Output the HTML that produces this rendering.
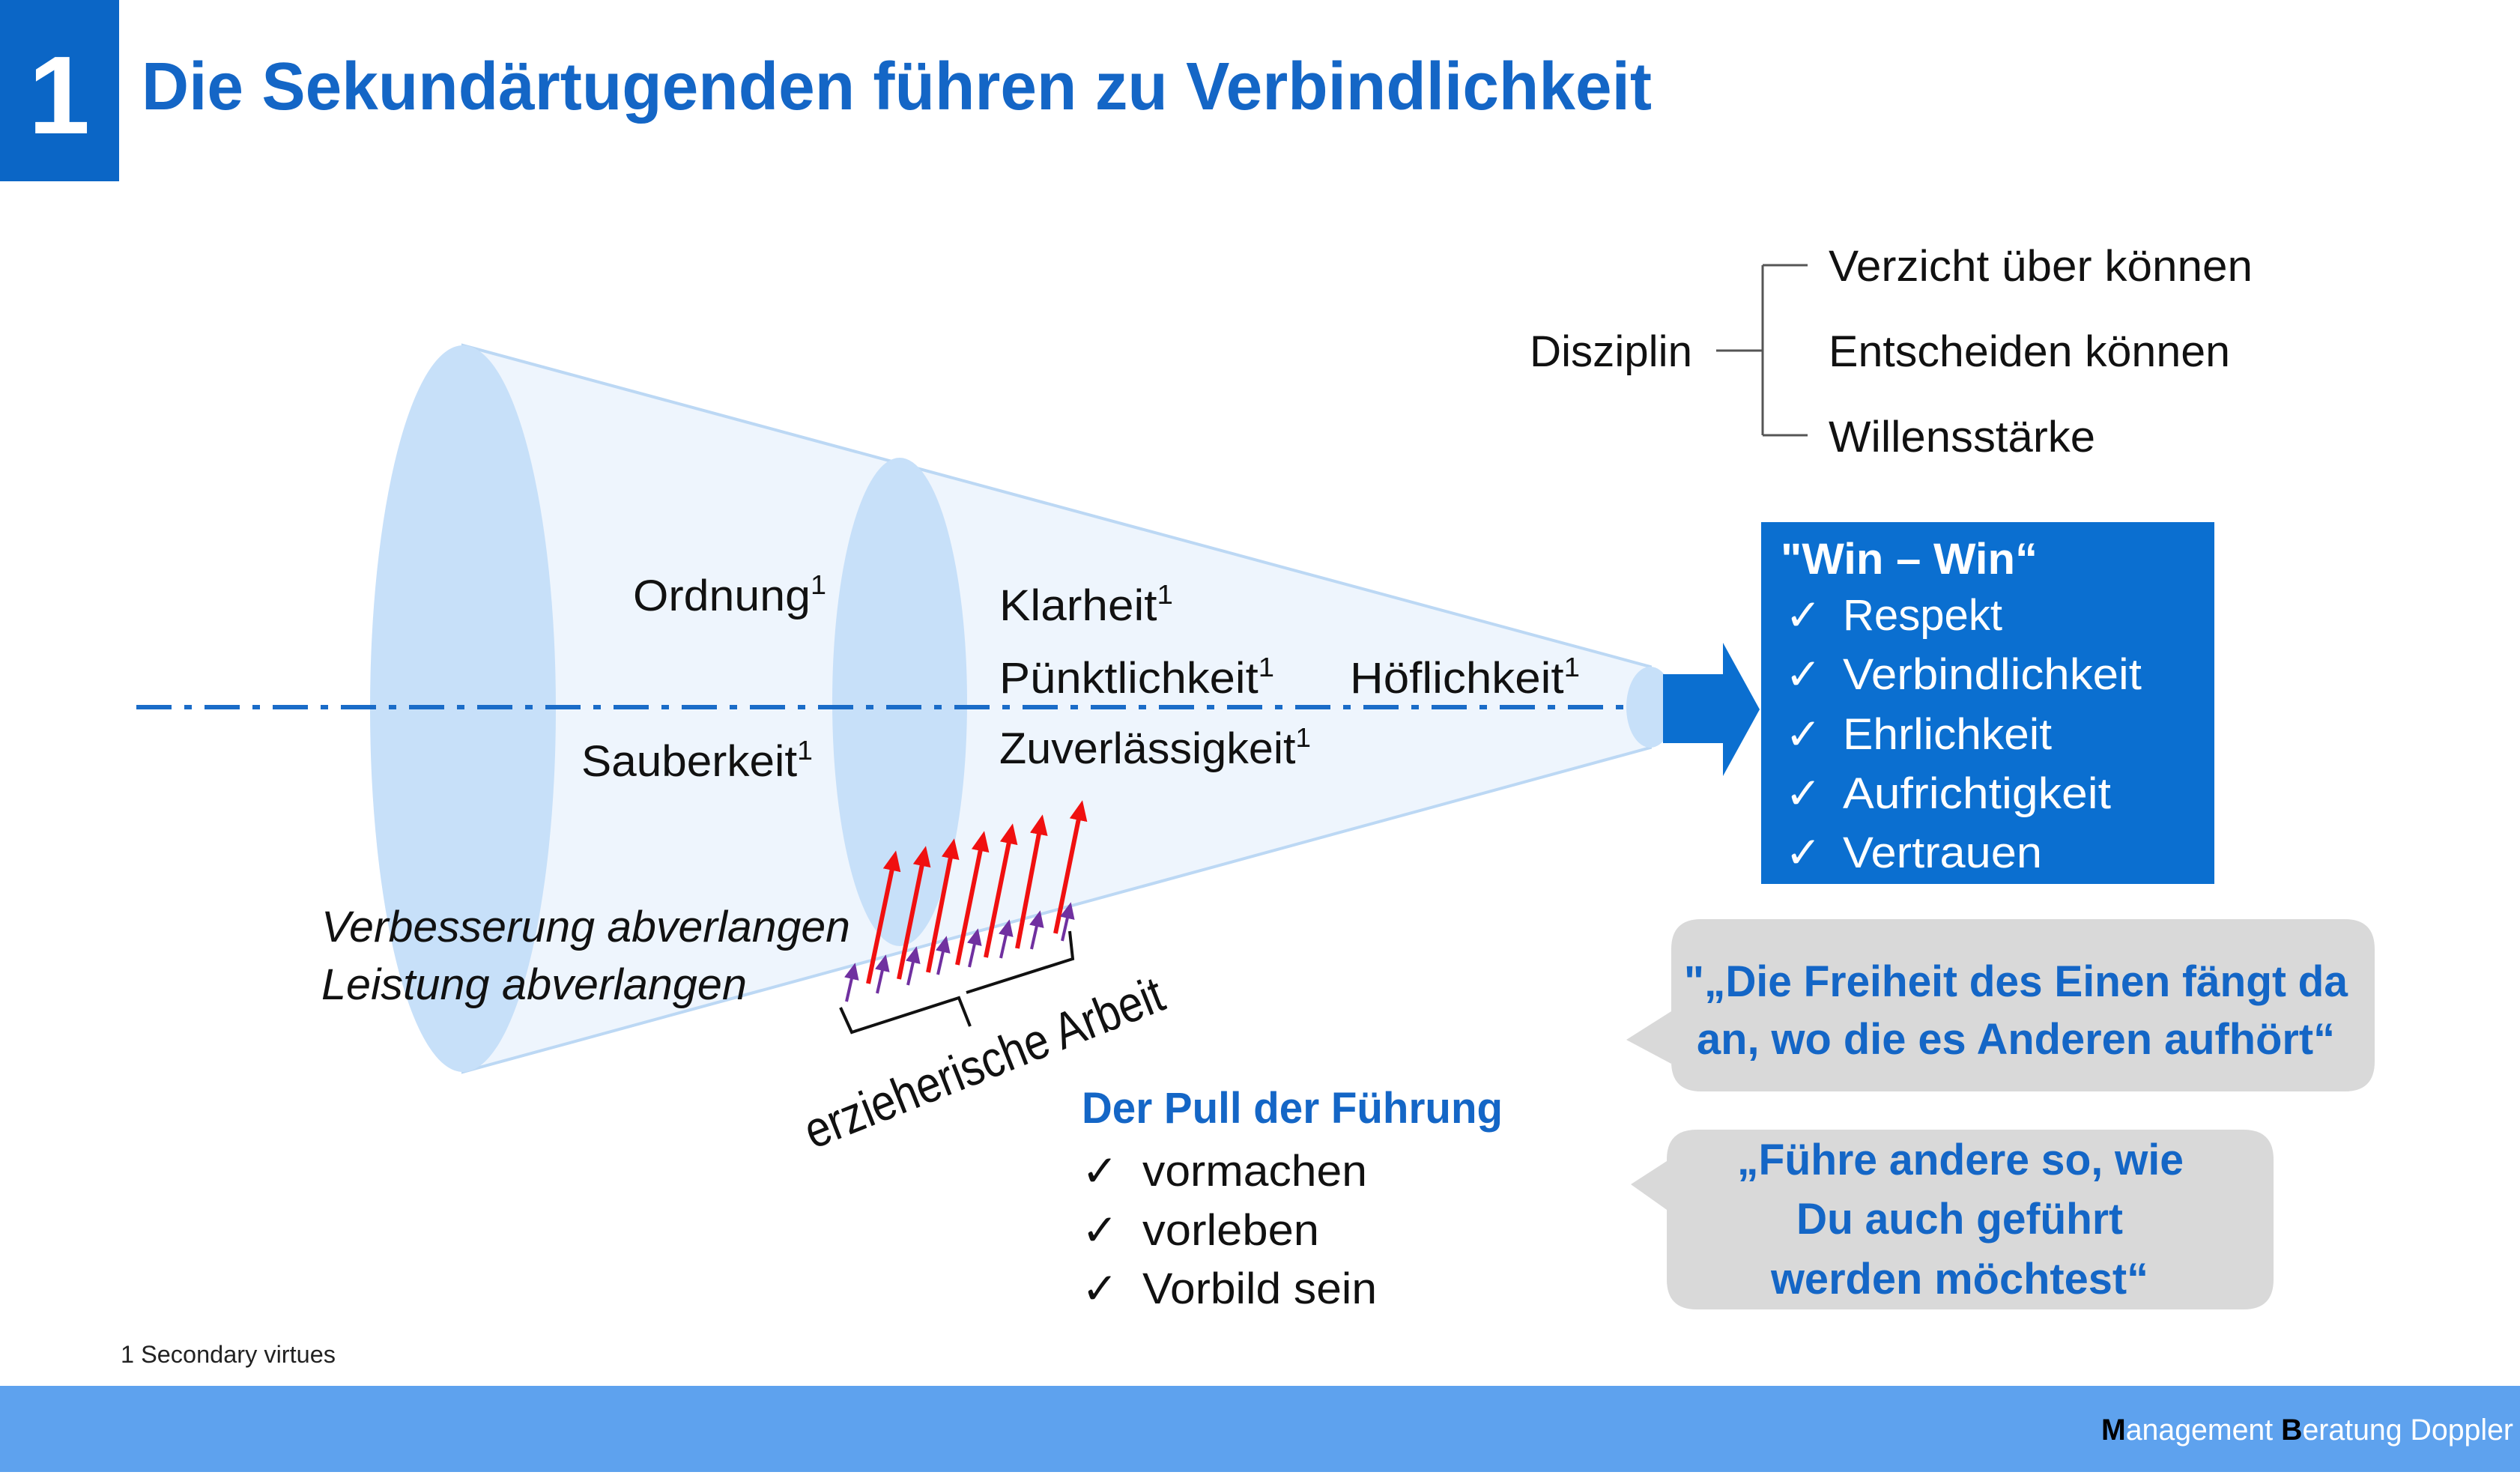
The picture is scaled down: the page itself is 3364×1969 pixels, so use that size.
<!DOCTYPE html>
<html><head><meta charset="utf-8"><style>
html,body{margin:0;padding:0;background:#fff;}
svg{display:block;}
text{font-family:"Liberation Sans",sans-serif;}
.ck{font-family:"DejaVu Sans",sans-serif;font-weight:bold;}
</style></head><body>
<svg width="3364" height="1969" viewBox="0 0 3364 1969" xmlns="http://www.w3.org/2000/svg">
<rect x="0" y="0" width="159" height="242" fill="#0b66c6"/>
<text x="79" y="178" font-size="148" font-weight="bold" fill="#fff" text-anchor="middle">1</text>
<text x="189" y="146" font-size="90" font-weight="bold" fill="#1466c6" textLength="2016" lengthAdjust="spacingAndGlyphs">Die Sekundärtugenden führen zu Verbindlichkeit</text>

<polygon points="618,461 2203,890 2203,998 618,1431" fill="#eef5fd" stroke="#bcd8f4" stroke-width="4"/>
<ellipse cx="618" cy="946" rx="124" ry="485" fill="#c7e0f9"/>
<ellipse cx="1201" cy="937" rx="90" ry="326" fill="#c7e0f9"/>
<ellipse cx="2203" cy="944" rx="32" ry="54" fill="#c7e0f9"/>
<line x1="182" y1="944" x2="2167" y2="944" stroke="#1a6cc8" stroke-width="6" stroke-dasharray="47 17 10 17"/>
<polygon points="2220,900 2300,900 2300,858 2349,947 2300,1036 2300,992 2220,992" fill="#0b6fd0"/>

<g font-size="58" fill="#111">
<text x="845" y="815" textLength="258" lengthAdjust="spacingAndGlyphs">Ordnung<tspan font-size="36" dy="-22">1</tspan></text>
<text x="1334" y="828" textLength="232" lengthAdjust="spacingAndGlyphs">Klarheit<tspan font-size="36" dy="-22">1</tspan></text>
<text x="1334" y="925" textLength="367" lengthAdjust="spacingAndGlyphs">Pünktlichkeit<tspan font-size="36" dy="-22">1</tspan></text>
<text x="1802" y="925" textLength="307" lengthAdjust="spacingAndGlyphs">Höflichkeit<tspan font-size="36" dy="-22">1</tspan></text>
<text x="776" y="1036" textLength="309" lengthAdjust="spacingAndGlyphs">Sauberkeit<tspan font-size="36" dy="-22">1</tspan></text>
<text x="1334" y="1019" textLength="416" lengthAdjust="spacingAndGlyphs">Zuverlässigkeit<tspan font-size="36" dy="-22">1</tspan></text>
<text x="429" y="1257" font-style="italic" textLength="706" lengthAdjust="spacingAndGlyphs">Verbesserung abverlangen</text>
<text x="429" y="1334" font-style="italic" textLength="568" lengthAdjust="spacingAndGlyphs">Leistung abverlangen</text>
<text x="2042" y="489" textLength="217" lengthAdjust="spacingAndGlyphs">Disziplin</text>
<text x="2441" y="375" textLength="566" lengthAdjust="spacingAndGlyphs">Verzicht über können</text>
<text x="2441" y="489" textLength="536" lengthAdjust="spacingAndGlyphs">Entscheiden können</text>
<text x="2441" y="603" textLength="356" lengthAdjust="spacingAndGlyphs">Willensstärke</text>
</g>
<g stroke="#555" stroke-width="3" fill="none">
<line x1="2291" y1="468" x2="2353" y2="468"/>
<line x1="2353" y1="354" x2="2353" y2="581"/>
<line x1="2353" y1="354" x2="2413" y2="354"/>
<line x1="2353" y1="581" x2="2413" y2="581"/>
</g>

<rect x="2351" y="697" width="605" height="483" fill="#0b6fd0"/>
<g fill="#fff" font-size="58">
<text x="2377" y="766" font-weight="bold" textLength="343" lengthAdjust="spacingAndGlyphs">"Win – Win“</text>
<text class="ck" x="2383" y="841" font-size="58">✓</text>
<text class="ck" x="2383" y="920" font-size="58">✓</text>
<text class="ck" x="2383" y="1000" font-size="58">✓</text>
<text class="ck" x="2383" y="1079" font-size="58">✓</text>
<text class="ck" x="2383" y="1158" font-size="58">✓</text>
<text x="2460" y="841" textLength="213" lengthAdjust="spacingAndGlyphs">Respekt</text>
<text x="2460" y="920" textLength="399" lengthAdjust="spacingAndGlyphs">Verbindlichkeit</text>
<text x="2460" y="1000" textLength="279" lengthAdjust="spacingAndGlyphs">Ehrlichkeit</text>
<text x="2460" y="1079" textLength="358" lengthAdjust="spacingAndGlyphs">Aufrichtigkeit</text>
<text x="2460" y="1158" textLength="266" lengthAdjust="spacingAndGlyphs">Vertrauen</text>
</g>

<path d="M2271,1227 H3130 Q3170,1227 3170,1267 V1417 Q3170,1457 3130,1457 H2271 Q2231,1457 2231,1417 V1420 L2171,1388 L2231,1350 V1267 Q2231,1227 2271,1227 Z" fill="#d9d9d9"/>
<path d="M2265,1508 H2995 Q3035,1508 3035,1548 V1708 Q3035,1748 2995,1748 H2265 Q2225,1748 2225,1708 V1615 L2177,1581 L2225,1550 V1548 Q2225,1508 2265,1508 Z" fill="#d9d9d9"/>
<g fill="#1466c6" font-size="58" font-weight="bold">
<text x="2248" y="1330" textLength="886" lengthAdjust="spacingAndGlyphs">"„Die Freiheit des Einen fängt da</text>
<text x="2265" y="1407" textLength="852" lengthAdjust="spacingAndGlyphs">an, wo die es Anderen aufhört“</text>
<text x="2319" y="1568" textLength="596" lengthAdjust="spacingAndGlyphs">„Führe andere so, wie</text>
<text x="2398" y="1647" textLength="436" lengthAdjust="spacingAndGlyphs">Du auch geführt</text>
<text x="2364" y="1727" textLength="504" lengthAdjust="spacingAndGlyphs">werden möchtest“</text>
<text x="1444" y="1499" textLength="562" lengthAdjust="spacingAndGlyphs">Der Pull der Führung</text>
</g>
<g fill="#111" font-size="58">
<text class="ck" x="1444" y="1583" font-size="58">✓</text>
<text class="ck" x="1444" y="1662" font-size="58">✓</text>
<text class="ck" x="1444" y="1740" font-size="58">✓</text>
<text x="1525" y="1583" textLength="300" lengthAdjust="spacingAndGlyphs">vormachen</text>
<text x="1525" y="1662" textLength="236" lengthAdjust="spacingAndGlyphs">vorleben</text>
<text x="1525" y="1740" textLength="313" lengthAdjust="spacingAndGlyphs">Vorbild sein</text>
</g>

<defs>
<marker id="rh" markerWidth="4.5" markerHeight="4" refX="2" refY="2" orient="auto" markerUnits="strokeWidth"><path d="M0,0 L4.5,2 L0,4 Z" fill="#f01010"/></marker>
<marker id="ph" markerWidth="5.5" markerHeight="5" refX="2.5" refY="2.5" orient="auto" markerUnits="strokeWidth"><path d="M0,0 L5.5,2.5 L0,5 Z" fill="#7030a0"/></marker>
</defs>
<g stroke="#f01010" stroke-width="6" marker-end="url(#rh)">
<line x1="1159" y1="1313" x2="1193" y2="1150"/>
<line x1="1200" y1="1307" x2="1233" y2="1144"/>
<line x1="1239" y1="1298" x2="1271" y2="1134"/>
<line x1="1278" y1="1288" x2="1311" y2="1124"/>
<line x1="1316" y1="1278" x2="1349" y2="1114"/>
<line x1="1358" y1="1266" x2="1389" y2="1102"/>
<line x1="1409" y1="1246" x2="1442" y2="1083"/>
</g>
<g stroke="#7030a0" stroke-width="4" marker-end="url(#ph)">
<line x1="1130" y1="1337" x2="1139" y2="1297"/>
<line x1="1171" y1="1326" x2="1180" y2="1286"/>
<line x1="1212" y1="1315" x2="1221" y2="1275"/>
<line x1="1252" y1="1301" x2="1261" y2="1261"/>
<line x1="1294" y1="1291" x2="1303" y2="1251"/>
<line x1="1336" y1="1279" x2="1345" y2="1239"/>
<line x1="1377" y1="1267" x2="1386" y2="1227"/>
<line x1="1418" y1="1256" x2="1427" y2="1216"/>
</g>
<path d="M1122,1345 L1137,1378 L1280,1332 L1295,1370 M1290,1325 L1432,1280 L1428,1243" stroke="#111" stroke-width="4" fill="none"/>
<text x="0" y="0" font-size="68" fill="#111" text-anchor="middle" textLength="510" lengthAdjust="spacingAndGlyphs" transform="translate(1322,1440) rotate(-21.7)">erzieherische Arbeit</text>

<text x="161" y="1819" font-size="32" fill="#222" textLength="287" lengthAdjust="spacingAndGlyphs">1 Secondary virtues</text>
<rect x="0" y="1850" width="3364" height="115" fill="#5ea2ee"/>
<text x="2805" y="1922" font-size="40" fill="#fff" textLength="550" lengthAdjust="spacingAndGlyphs"><tspan fill="#000" font-weight="bold">M</tspan>anagement <tspan fill="#000" font-weight="bold">B</tspan>eratung  Doppler</text>
</svg>
</body></html>
